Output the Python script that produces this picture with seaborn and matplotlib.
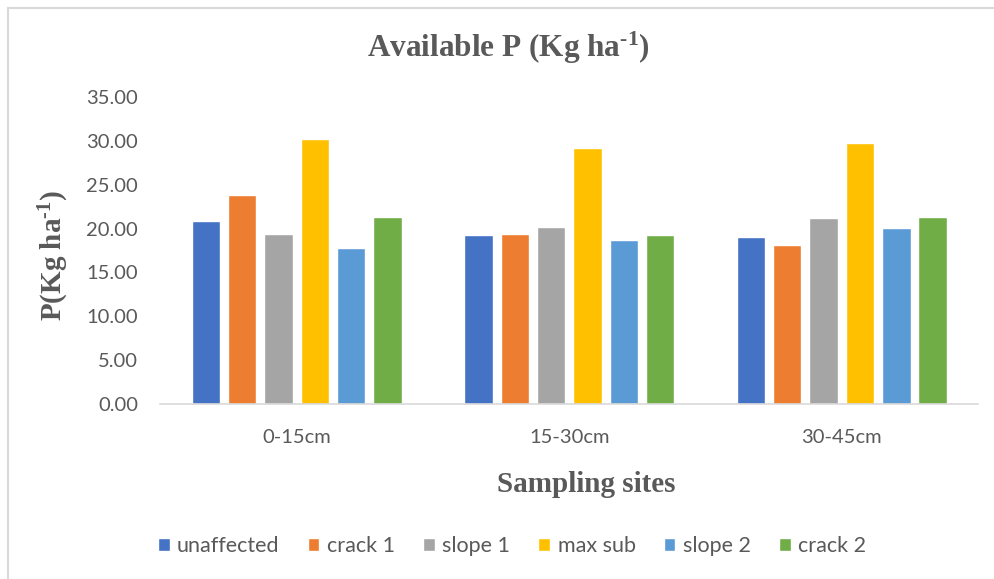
import matplotlib
matplotlib.use("Agg")
import matplotlib.pyplot as plt
import seaborn as sns
import pandas as pd
from matplotlib.patches import Rectangle

depths = ["0-15cm", "15-30cm", "30-45cm"]
sites = ["unaffected", "crack 1", "slope 1", "max sub", "slope 2", "crack 2"]
unaffected = [20.90, 19.22, 19.00]
crack_1 = [23.80, 19.37, 18.08]
slope_1 = [19.34, 20.14, 21.20]
max_sub = [30.20, 29.17, 29.81]
slope_2 = [17.77, 18.65, 20.02]
crack_2 = [21.28, 19.25, 21.35]
colors = ["#4472C4", "#ED7D31", "#A5A5A5", "#FFC000", "#5B9BD5", "#70AD47"]
yticks = [0, 5, 10, 15, 20, 25, 30, 35]

series = [unaffected, crack_1, slope_1, max_sub, slope_2, crack_2]
rows = []
for name, vals in zip(sites, series):
    for d, v in zip(depths, vals):
        rows.append({"depth": d, "site": name, "P": v})
df = pd.DataFrame(rows)

sns.set_theme(style="white")
# superscripts in the bold serif labels
plt.rcParams["mathtext.fontset"] = "custom"
plt.rcParams["mathtext.rm"] = "Liberation Serif:bold"
plt.rcParams["mathtext.it"] = "Liberation Serif:bold"
plt.rcParams["mathtext.bf"] = "Liberation Serif:bold"

grey = "#595959"
serif = ["Liberation Serif", "DejaVu Serif"]
sans = ["Lato", "DejaVu Sans"]

fig = plt.figure(figsize=(9.94, 5.79), dpi=100)
ax = fig.add_axes([0.1614, 0.3031, 0.8226, 0.5289])

sns.barplot(data=df, x="depth", y="P", hue="site", order=depths,
            hue_order=sites, palette=colors, width=0.8, gap=0.22,
            saturation=1, errorbar=None, ax=ax, legend=True)

ax.set_xlim(-0.5, 2.5)
ax.set_ylim(0, 35)
ax.set_yticks(yticks)
ax.set_yticklabels([f"{v:.2f}" for v in yticks], fontfamily=sans,
                   fontsize=14.5, color=grey)
ax.set_xticks(range(len(depths)))
ax.set_xticklabels(depths, fontfamily=sans, fontsize=14.5, color=grey)
ax.tick_params(axis="both", length=0)
ax.tick_params(axis="y", pad=16)
ax.tick_params(axis="x", pad=18)
ax.grid(False)
for side in ["left", "right", "top"]:
    ax.spines[side].set_visible(False)
ax.spines["bottom"].set_color("#D9D9D9")
ax.spines["bottom"].set_linewidth(1.2)
ax.set_xlabel("")
ax.set_ylabel("")

fig.text(0.511, 1 - 48 / 579, r"Available P (Kg ha$^{\text{-1}}$)",
         ha="center", va="center", fontfamily=serif, fontweight="bold",
         fontsize=22.5, color=grey)
fig.text(0.054, 1 - 255 / 579, r"P(Kg ha$^{\text{-1}}$)", ha="center",
         va="center", rotation=90, fontfamily=serif, fontweight="bold",
         fontsize=21, color=grey)
fig.text(0.590, 1 - 484 / 579, "Sampling sites", ha="center", va="center",
         fontfamily=serif, fontweight="bold", fontsize=21, color=grey)

handles, labels = ax.get_legend_handles_labels()
ax.legend_.remove()
fig.legend(handles, labels, loc="center", bbox_to_anchor=(0.515, 1 - 546 / 579),
           ncol=6, frameon=False, handlelength=0.55, handleheight=0.55,
           handletextpad=0.35, columnspacing=1.3,
           prop={"family": sans, "size": 15.5}, labelcolor=grey)

fig.patches.append(Rectangle((8 / 994, -0.02), 1.1, 1 - 8 / 579 + 0.02,
                             transform=fig.transFigure, fill=False,
                             edgecolor="#D9D9D9", linewidth=1.5))

fig.savefig("out.png", dpi=100, facecolor="white")
